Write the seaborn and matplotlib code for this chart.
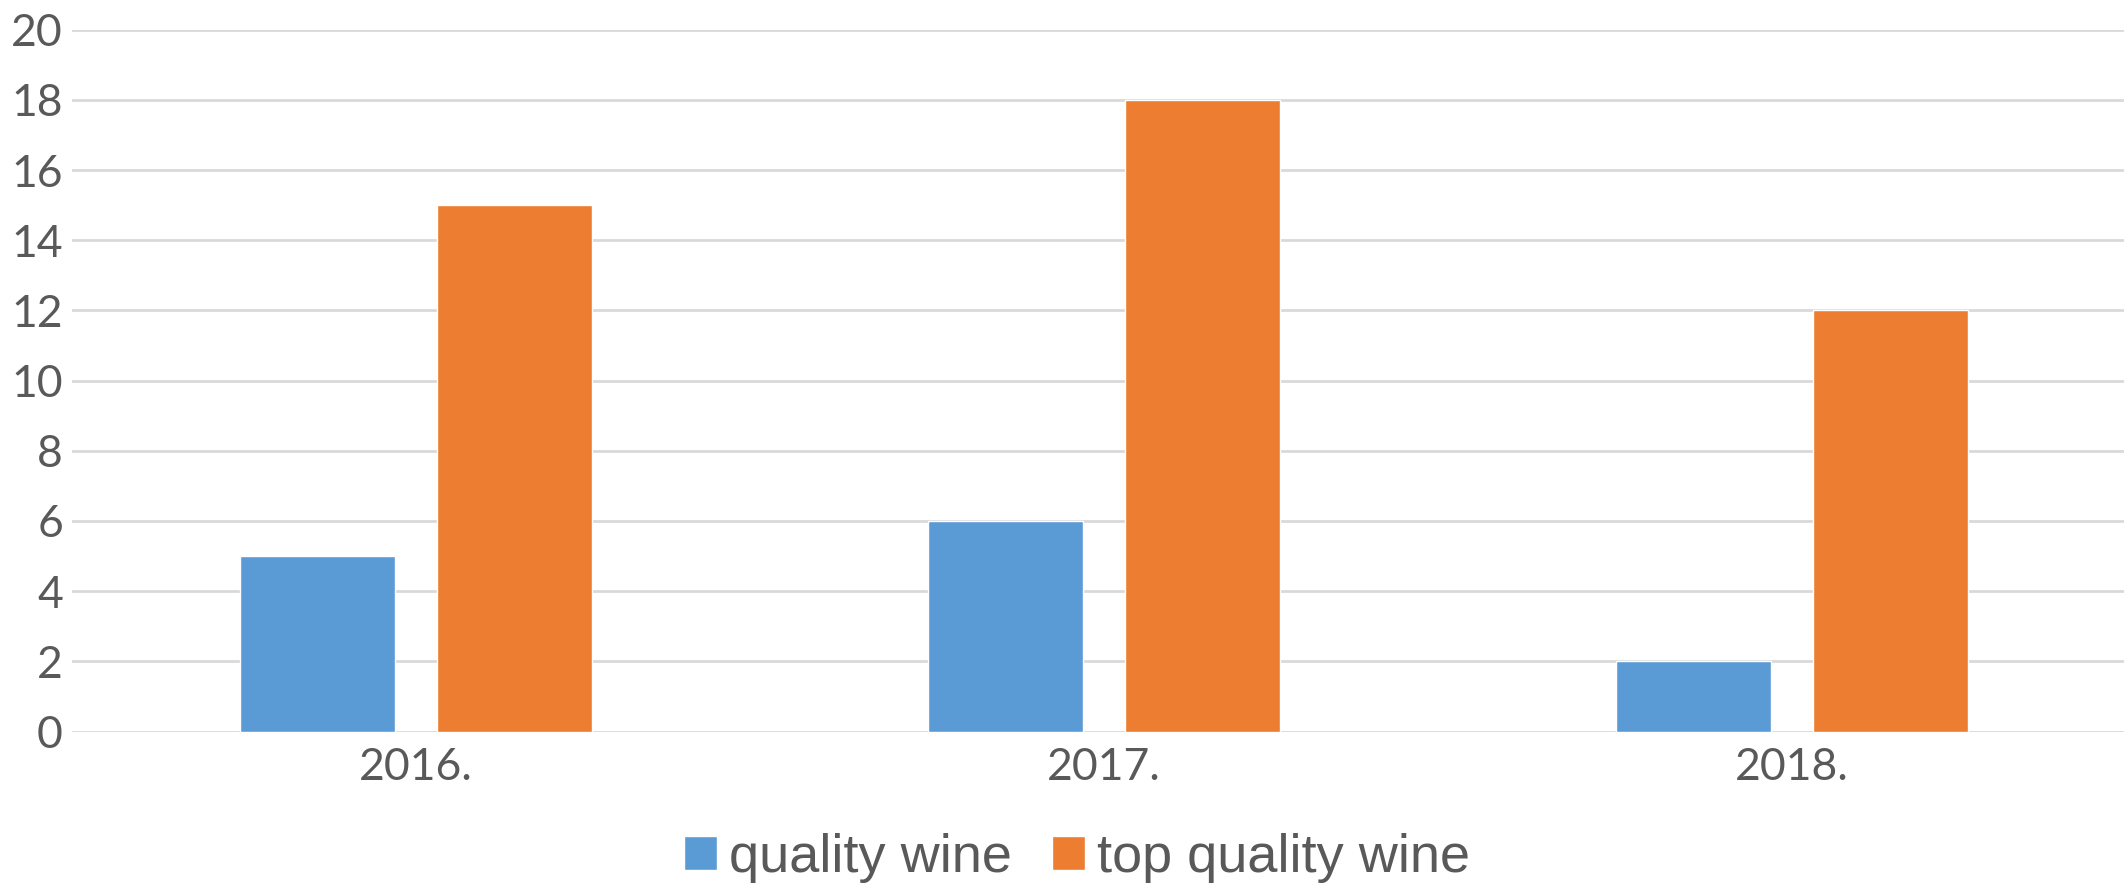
import matplotlib
matplotlib.use("Agg")
import matplotlib.pyplot as plt
import seaborn as sns
import pandas as pd

years = ["2016.", "2017.", "2018."]
quality_wine = [5, 6, 2]
top_quality_wine = [15, 18, 12]
series_names = ["quality wine", "top quality wine"]
y_ticks = list(range(0, 21, 2))

df = pd.DataFrame({
    "year": years * 2,
    "value": quality_wine + top_quality_wine,
    "series": [series_names[0]] * 3 + [series_names[1]] * 3,
})

sns.set_theme(style="white")
plt.rcParams["font.family"] = ["Lato", "DejaVu Sans"]

fig = plt.figure(figsize=(21.24, 8.89), dpi=100)
ax = fig.add_axes([72 / 2124, 1 - 731.5 / 889, 2064 / 2124, (731.5 - 29.8) / 889])

palette = {series_names[0]: "#5B9BD5", series_names[1]: "#ED7D31"}
sns.barplot(data=df, x="year", y="value", hue="series", palette=palette,
            width=0.573, gap=0.21, saturation=1, ax=ax, legend=True, zorder=3)

ax.set_xlim(-0.5, 2.5)
ax.set_ylim(0, 20)
ax.set_yticks(y_ticks)
ax.yaxis.grid(True, color="#d9d9d9", linewidth=2, zorder=0)
ax.set_axisbelow(True)
for s in ["left", "right", "top", "bottom"]:
    ax.spines[s].set_visible(False)
ax.set_xlabel("")
ax.set_ylabel("")
ax.tick_params(axis="both", length=0, labelsize=32, colors="#595959")
ax.tick_params(axis="y", pad=6.5)
ax.tick_params(axis="x", pad=11)

handles, labels = ax.get_legend_handles_labels()
ax.get_legend().remove()
leg = fig.legend(handles, labels, loc="center", bbox_to_anchor=(0.507, 0.035),
                 ncol=2, frameon=False,
                 prop={"family": "Liberation Sans", "size": 39},
                 handlelength=0.6, handleheight=0.6, handletextpad=0.22,
                 columnspacing=0.75, borderaxespad=0)
for t in leg.get_texts():
    t.set_color("#595959")

fig.savefig("out.png", dpi=100)
